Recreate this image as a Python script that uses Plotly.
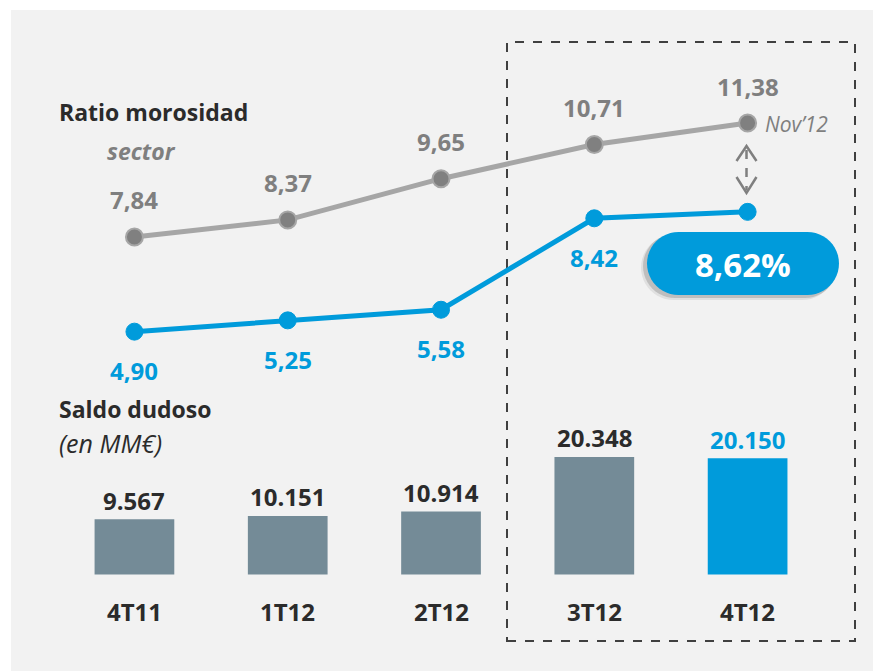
import math
import plotly.graph_objects as go

# data
quarters = ["4T11", "1T12", "2T12", "3T12", "4T12"]
ratio_sector = [7.84, 8.37, 9.65, 10.71, 11.38]
ratio_bank = [4.90, 5.25, 5.58, 8.42, 8.62]
saldo_dudoso = [9567, 10151, 10914, 20348, 20150]
sector_last_label = "Nov’12"

W, H = 873, 671
GREY_TXT = "#7f7f7f"
DARK = "#2b2b2b"
BLUE = "#009bdb"
BAR_GREY = "#748b97"
FONT = "Open Sans"


def X(px):
    return px / W


def Y(py):
    return 1 - py / H


def comma(v):
    return f"{v:.2f}".replace(".", ",")


def thousands(v):
    return f"{v:,}".replace(",", ".")


fig = go.Figure()

# bars (bottom part)
bar_colors = [BAR_GREY] * (len(quarters) - 1) + [BLUE]
fig.add_trace(go.Bar(
    x=quarters, y=saldo_dudoso, width=0.52,
    marker=dict(color=bar_colors, line=dict(width=0)),
    xaxis="x", yaxis="y2", hoverinfo="skip",
))

# sector ratio line
fig.add_trace(go.Scatter(
    x=quarters, y=ratio_sector, mode="lines+markers",
    line=dict(color="#a6a6a6", width=5),
    marker=dict(size=17, color="#808080", line=dict(color="#a6a6a6", width=2)),
    xaxis="x", yaxis="y", hoverinfo="skip",
))

# bank ratio line
fig.add_trace(go.Scatter(
    x=quarters, y=ratio_bank, mode="lines+markers",
    line=dict(color=BLUE, width=5),
    marker=dict(size=17, color=BLUE, line=dict(color=BLUE, width=1)),
    xaxis="x", yaxis="y", hoverinfo="skip",
))

ann = []
for q, v in zip(quarters, ratio_sector):
    ann.append(dict(x=q, y=v, xref="x", yref="y", text=comma(v), showarrow=False,
                    yshift=37, font=dict(family=FONT, size=24, color=GREY_TXT, weight="bold")))
for q, v in zip(quarters[:-1], ratio_bank[:-1]):
    ann.append(dict(x=q, y=v, xref="x", yref="y", text=comma(v), showarrow=False,
                    yshift=-39, font=dict(family=FONT, size=24, color=BLUE, weight="bold")))
for i, (q, v) in enumerate(zip(quarters, saldo_dudoso)):
    c = BLUE if i == len(quarters) - 1 else DARK
    ann.append(dict(x=q, y=v, xref="x", yref="y2", text=thousands(v), showarrow=False,
                    yshift=19, font=dict(family=FONT, size=24, color=c, weight="bold")))
    ann.append(dict(x=q, y=0, xref="x", yref="y2", text=q, showarrow=False,
                    yshift=-37, font=dict(family=FONT, size=24, color=DARK, weight="bold")))

# titles
ann += [
    dict(x=X(57), y=Y(112), text="Ratio morosidad", xanchor="left",
         font=dict(family=FONT, size=23, color=DARK, weight="bold")),
    dict(x=X(105), y=Y(151), text="sector", xanchor="left",
         font=dict(family=FONT, size=23, color=GREY_TXT, weight="bold", style="italic")),
    dict(x=X(57), y=Y(409), text="Saldo dudoso", xanchor="left",
         font=dict(family=FONT, size=23, color=DARK, weight="bold")),
    dict(x=X(57), y=Y(443), text="(en MM€)", xanchor="left",
         font=dict(family=FONT, size=25, color=DARK, style="italic")),
    dict(x=X(763), y=Y(124), text=sector_last_label, xanchor="left",
         font=dict(family=FONT, size=21, color=GREY_TXT, style="italic")),
    dict(x=X(743), y=Y(264), text=comma(ratio_bank[-1]) + "%", xanchor="center",
         font=dict(family=FONT, size=33, color="white", weight="bold")),
]
for a in ann[-6:]:
    a.update(xref="paper", yref="paper", yanchor="middle", showarrow=False)


def pill_path(x0, x1, y0, y1, n=24):
    r = (y1 - y0) / 2
    cy = (y0 + y1) / 2
    pts = []
    for k in range(n + 1):
        a = -math.pi / 2 + math.pi * k / n
        pts.append((x1 - r + r * math.cos(a), cy + r * math.sin(a)))
    for k in range(n + 1):
        a = math.pi / 2 + math.pi * k / n
        pts.append((x0 + r + r * math.cos(a), cy + r * math.sin(a)))
    return "M " + " L ".join(f"{X(px):.5f},{Y(py):.5f}" for px, py in pts) + " Z"


shapes = [
    dict(type="rect", xref="paper", yref="paper", x0=X(11), x1=1, y0=0, y1=Y(10),
         fillcolor="#f2f2f2", line=dict(width=0), layer="below"),
    dict(type="rect", xref="paper", yref="paper", x0=X(507), x1=X(855), y0=Y(641), y1=Y(42),
         line=dict(color="#404040", width=2, dash="dash"), layer="below"),
    dict(type="path", xref="paper", yref="paper", path=pill_path(641, 835, 235, 300),
         fillcolor="rgba(0,0,0,0.07)", line=dict(width=0)),
    dict(type="path", xref="paper", yref="paper", path=pill_path(643, 837, 234, 298),
         fillcolor="rgba(0,0,0,0.15)", line=dict(width=0)),
    dict(type="path", xref="paper", yref="paper", path=pill_path(647, 839, 232, 295),
         fillcolor=BLUE, line=dict(width=0)),
    # dashed double arrow
    dict(type="line", xref="paper", yref="paper", x0=X(746.5), x1=X(746.5), y0=Y(150), y1=Y(190),
         line=dict(color=GREY_TXT, width=2.5, dash="dash")),
    dict(type="path", xref="paper", yref="paper",
         path=f"M {X(736.5)},{Y(161)} L {X(746.5)},{Y(146)} L {X(756.5)},{Y(161)}",
         line=dict(color=GREY_TXT, width=2.5)),
    dict(type="path", xref="paper", yref="paper",
         path=f"M {X(736.5)},{Y(177)} L {X(746.5)},{Y(193)} L {X(756.5)},{Y(177)}",
         line=dict(color=GREY_TXT, width=2.5)),
]

fig.update_layout(
    width=W, height=H,
    margin=dict(l=0, r=0, t=0, b=0),
    paper_bgcolor="white", plot_bgcolor="rgba(0,0,0,0)",
    showlegend=False,
    xaxis=dict(type="category", range=[-0.877, 4.818], domain=[0, 1], visible=False, fixedrange=True),
    yaxis=dict(range=[-5.64, 15.20], domain=[0, 1], visible=False, fixedrange=True),
    yaxis2=dict(range=[-16710, 99480], domain=[0, 1], overlaying="y", visible=False, fixedrange=True),
    annotations=ann,
    shapes=shapes,
)

fig.write_html("out.html", config={"displayModeBar": False},
               post_script="document.body.style.margin='0';document.body.style.overflow='hidden';")
